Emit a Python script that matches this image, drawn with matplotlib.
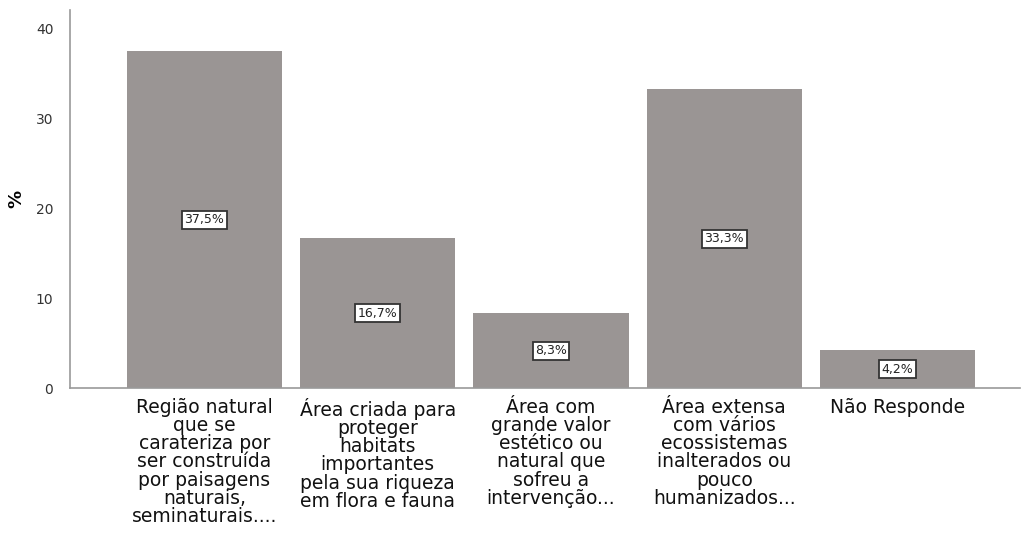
import matplotlib
matplotlib.use("Agg")
import matplotlib.pyplot as plt

# Categories and percentages
categories = [
    "Região natural\nque se\ncarateriza por\nser construída\npor paisagens\nnaturais,\nseminaturais....",
    "Área criada para\nproteger\nhabitats\nimportantes\npela sua riqueza\nem flora e fauna",
    "Área com\ngrande valor\nestético ou\nnatural que\nsofreu a\nintervenção...",
    "Área extensa\ncom vários\necossistemas\ninalterados ou\npouco\nhumanizados...",
    "Não Responde",
]
values = [37.5, 16.7, 8.3, 33.3, 4.2]
value_labels = ["37,5%", "16,7%", "8,3%", "33,3%", "4,2%"]

fig = plt.figure(figsize=(10.22, 5.36), dpi=100)
ax = fig.add_axes([70 / 1022, 148 / 536, 950 / 1022, 378 / 536])

x = list(range(len(values)))
ax.bar(x, values, width=0.895, color="#9a9594", edgecolor="none", zorder=2)

for xi, v, lab in zip(x, values, value_labels):
    ax.text(xi, v / 2, lab, ha="center", va="center", fontsize=9, color="#222222",
            bbox=dict(boxstyle="square,pad=0.2", facecolor="white", edgecolor="#333333", linewidth=1.3),
            zorder=3)

ax.set_xlim(-0.776, 4.707)
ax.set_ylim(0, 42.1)
ax.set_yticks([0, 10, 20, 30, 40])
ax.tick_params(axis="y", length=0, labelsize=10, labelcolor="#333333", pad=12)
ax.set_xticks(x)
ax.set_xticklabels(categories, fontsize=13.5, linespacing=0.95, color="#111111", va="top")
ax.tick_params(axis="x", length=0, pad=7)

for s in ["top", "right"]:
    ax.spines[s].set_visible(False)
for s in ["left", "bottom"]:
    ax.spines[s].set_color("#999999")
    ax.spines[s].set_linewidth(1.2)

ax.set_ylabel("%", fontsize=13, fontweight="bold")
ax.yaxis.set_label_coords(-45 / 950, 0.5)

fig.savefig("out.png", dpi=100)
